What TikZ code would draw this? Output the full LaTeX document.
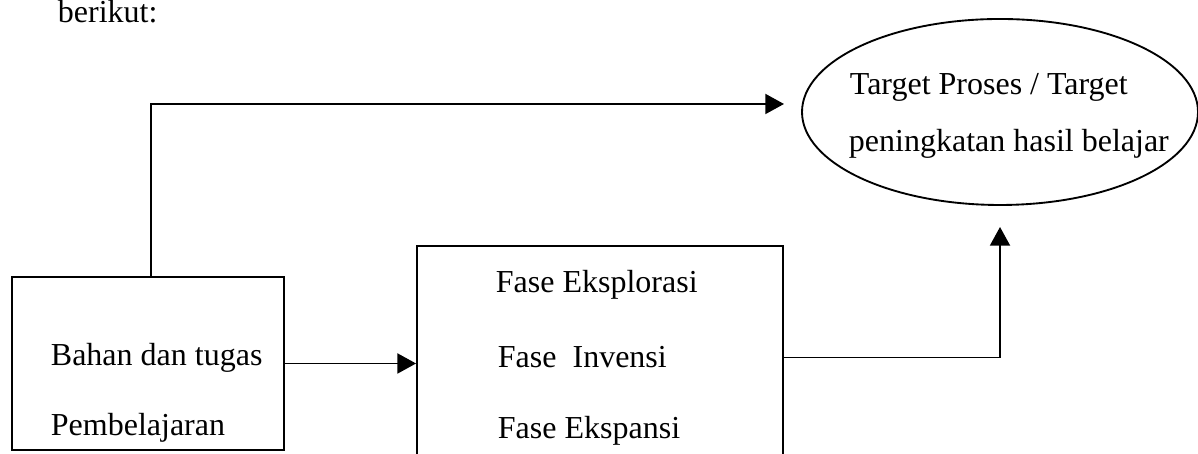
\documentclass[tikz,border=0pt]{standalone}
\usepackage{fontspec}
\setmainfont{Liberation Serif}
\usetikzlibrary{shapes.geometric,arrows.meta,positioning}

\begin{document}
\begin{tikzpicture}[x=0.375pt,y=0.375pt,line width=0.7pt,
  font=\fontsize{12}{14.5}\selectfont,
  kotak/.style={draw,rectangle,inner sep=0},
  ellips/.style={draw,ellipse,inner sep=0,minimum width=148.5pt,minimum height=69.75pt},
  teks/.style={inner sep=0,anchor=base west},
  panah/.style={-{Triangle[length=7pt,width=7.5pt]}}]
  \path[use as bounding box,clip] (0,0) rectangle (1198,454);

  %heading
  \node[teks] (berikut) at (57,431) {berikut:};

  %left box
  \node[kotak,minimum width=102pt,minimum height=64.9pt] (bahan) at (148,90.5) {};
  \node[teks] (bahan1) at (50,88) {Bahan dan tugas};
  \node[teks] (bahan2) at (50,18) {Pembelajaran};

  %middle box
  \node[kotak,minimum width=137.25pt,minimum height=91pt] (fase) at (600,86.7) {};
  \node[teks] (eksplorasi) at (495,161) {Fase Eksplorasi};
  \node[teks] (invensi) at (497,86) {Fase~ Invensi};
  \node[teks] (ekspansi) at (497,15) {Fase Ekspansi};

  %target
  \node[ellips] (tujuan) at (1000,342) {};
  \node[teks] (tujuan1) at (849,359) {Target Proses / Target};
  \node[teks] (tujuan2) at (848,302) {peningkatan hasil belajar};

  %arrows
  \coordinate (belok) at (151,350);
  \draw[panah,shorten >=6.4pt] (bahan.north -| belok) -- (belok) -- (belok -| tujuan.west);
  \draw[panah] (bahan.east) -- (fase.west |- bahan.east);
  \draw[panah,shorten >=7.9pt] (fase.east |- invensi) -| (tujuan.south);
\end{tikzpicture}
\end{document}
